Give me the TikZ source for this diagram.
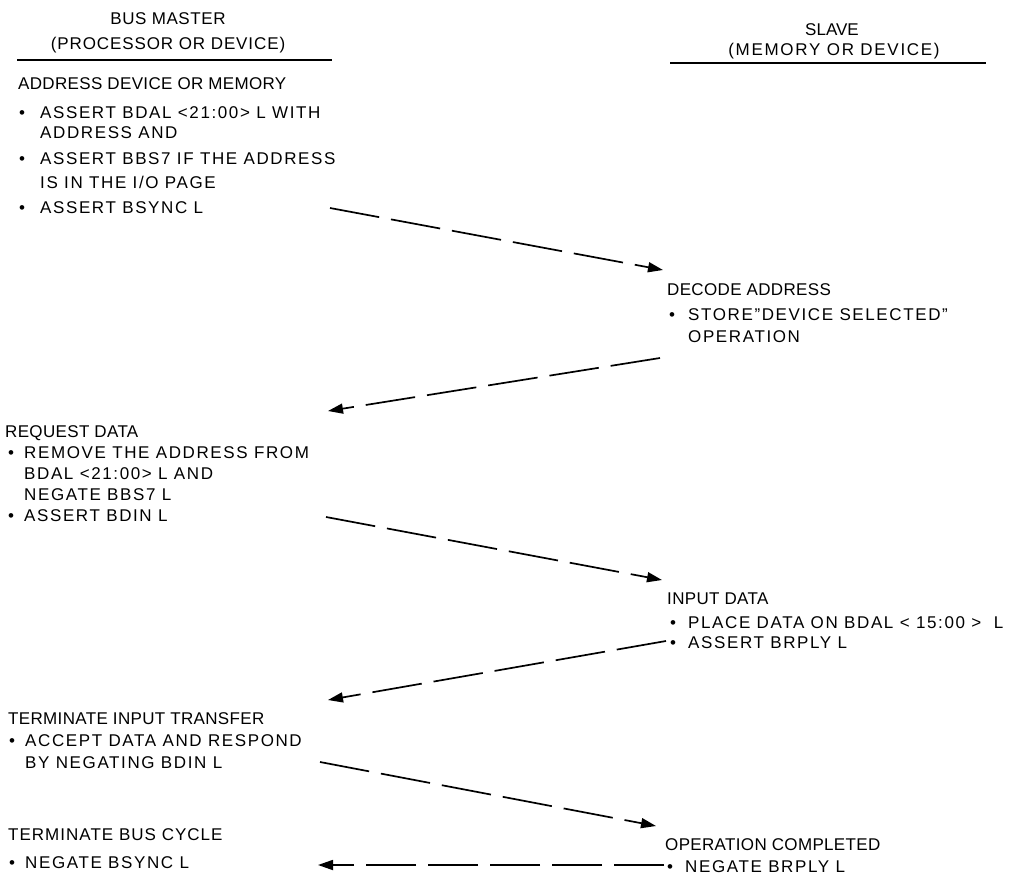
\documentclass[tikz,border=0pt]{standalone}
\usepackage{fontspec}
\setmainfont{Liberation Sans}
\newfontfamily\bodyfont{Liberation Sans}[LetterSpace=9.5]
\newfontfamily\titlefont{Liberation Sans}[LetterSpace=2]
\usetikzlibrary{arrows.meta}
\begin{document}
\begin{tikzpicture}[x=1pt,y=-1pt,
  txt/.style={anchor=base west,inner sep=0pt,font=\bodyfont\fontsize{17}{20}\selectfont},
  ttl/.style={anchor=base west,inner sep=0pt,font=\titlefont\fontsize{17}{20}\selectfont},
  hdr/.style={anchor=base,inner sep=0pt,font=\fontsize{17}{20}\selectfont},
  rulel/.style={line width=2.2pt},
  flow/.style={line width=1.7pt,dash pattern=on 50pt off 12pt,-{Triangle[length=15pt,width=10pt]}}]
\useasboundingbox[fill=white] (0,0) rectangle (1010,875);

% headers
\node[hdr] (hm1) at (168,25) {\addfontfeature{LetterSpace=3.5}BUS MASTER};
\node[hdr] (hm2) at (168,50) {\addfontfeature{LetterSpace=5.3}(PROCESSOR OR DEVICE)};
\coordinate (rm1) at (17,60); \coordinate (rm2) at (332,60);
\draw[rulel] (rm1) -- (rm2);
\node[hdr] (hs1) at (832,36) {SLAVE};
\node[hdr] (hs2) at (834,56) {\addfontfeature{LetterSpace=10}(MEMORY OR DEVICE)};
\coordinate (rs1) at (670,63); \coordinate (rs2) at (986,63);
\draw[rulel] (rs1) -- (rs2);

% master block 1
\node[ttl] (m1t) at (18,90) {ADDRESS DEVICE OR MEMORY};
\node[txt] (m1b1) at (19,118) {\textbullet};
\node[txt] (m1l1) at (40,118) {ASSERT BDAL <21:00> L WITH};
\node[txt] (m1l2) at (40,139) {ADDRESS AND};
\node[txt] (m1b2) at (19,164) {\textbullet};
\node[txt] (m1l3) at (40,164) {ASSERT BBS7 IF THE ADDRESS};
\node[txt] (m1l4) at (40,188) {IS IN THE I/O PAGE};
\node[txt] (m1b3) at (19,213) {\textbullet};
\node[txt] (m1l5) at (40,213) {ASSERT BSYNC L};

% slave block 1
\node[ttl] (s1t) at (667,295) {DECODE ADDRESS};
\node[txt] (s1b1) at (669,320) {\textbullet};
\node[txt] (s1l1) at (688,320) {STORE\textquotedblright DEVICE SELECTED\textquotedblright};
\node[txt] (s1l2) at (688,342) {OPERATION};

% master block 2
\node[ttl] (m2t) at (5,437) {REQUEST DATA};
\node[txt] (m2b1) at (8,458) {\textbullet};
\node[txt] (m2l1) at (24,458) {REMOVE THE ADDRESS FROM};
\node[txt] (m2l2) at (24,479) {BDAL <21:00> L AND};
\node[txt] (m2l3) at (24,500) {NEGATE BBS7 L};
\node[txt] (m2b2) at (8,521) {\textbullet};
\node[txt] (m2l4) at (24,521) {ASSERT BDIN L};

% slave block 2
\node[ttl] (s2t) at (667,604) {INPUT DATA};
\node[txt] (s2b1) at (670,628) {\textbullet};
\node[txt] (s2l1) at (688,628) {PLACE DATA ON BDAL < 15:00 > \ L};
\node[txt] (s2b2) at (670,648) {\textbullet};
\node[txt] (s2l2) at (688,648) {ASSERT BRPLY L};

% master block 3
\node[ttl] (m3t) at (8,724) {TERMINATE INPUT TRANSFER};
\node[txt] (m3b1) at (9,746) {\textbullet};
\node[txt] (m3l1) at (25,746) {ACCEPT DATA AND RESPOND};
\node[txt] (m3l2) at (25,768) {BY NEGATING BDIN L};

% master block 4
\node[ttl] (m4t) at (8,840) {\addfontfeature{LetterSpace=6}TERMINATE BUS CYCLE};
\node[txt] (m4b1) at (9,868) {\textbullet};
\node[txt] (m4l1) at (25,868) {NEGATE BSYNC L};

% slave block 3
\node[ttl] (s3t) at (665,850) {OPERATION COMPLETED};
\node[txt] (s3b1) at (667,872) {\textbullet};
\node[txt] (s3l1) at (685,872) {NEGATE BRPLY L};

% connectors
\coordinate (a1s) at (330,208); \coordinate (a1e) at (663,270);
\coordinate (a2s) at (660,358); \coordinate (a2e) at (328,411);
\coordinate (a3s) at (326,517); \coordinate (a3e) at (662,580);
\coordinate (a4s) at (666,641); \coordinate (a4e) at (328,700);
\coordinate (a5s) at (320,762); \coordinate (a5e) at (656,826);
\coordinate (a6s) at (664,865); \coordinate (a6e) at (318,865);
\draw[flow] (a1s) -- (a1e);
\draw[flow] (a2s) -- (a2e);
\draw[flow] (a3s) -- (a3e);
\draw[flow] (a4s) -- (a4e);
\draw[flow] (a5s) -- (a5e);
\draw[flow] (a6s) -- (a6e);
\end{tikzpicture}
\end{document}
